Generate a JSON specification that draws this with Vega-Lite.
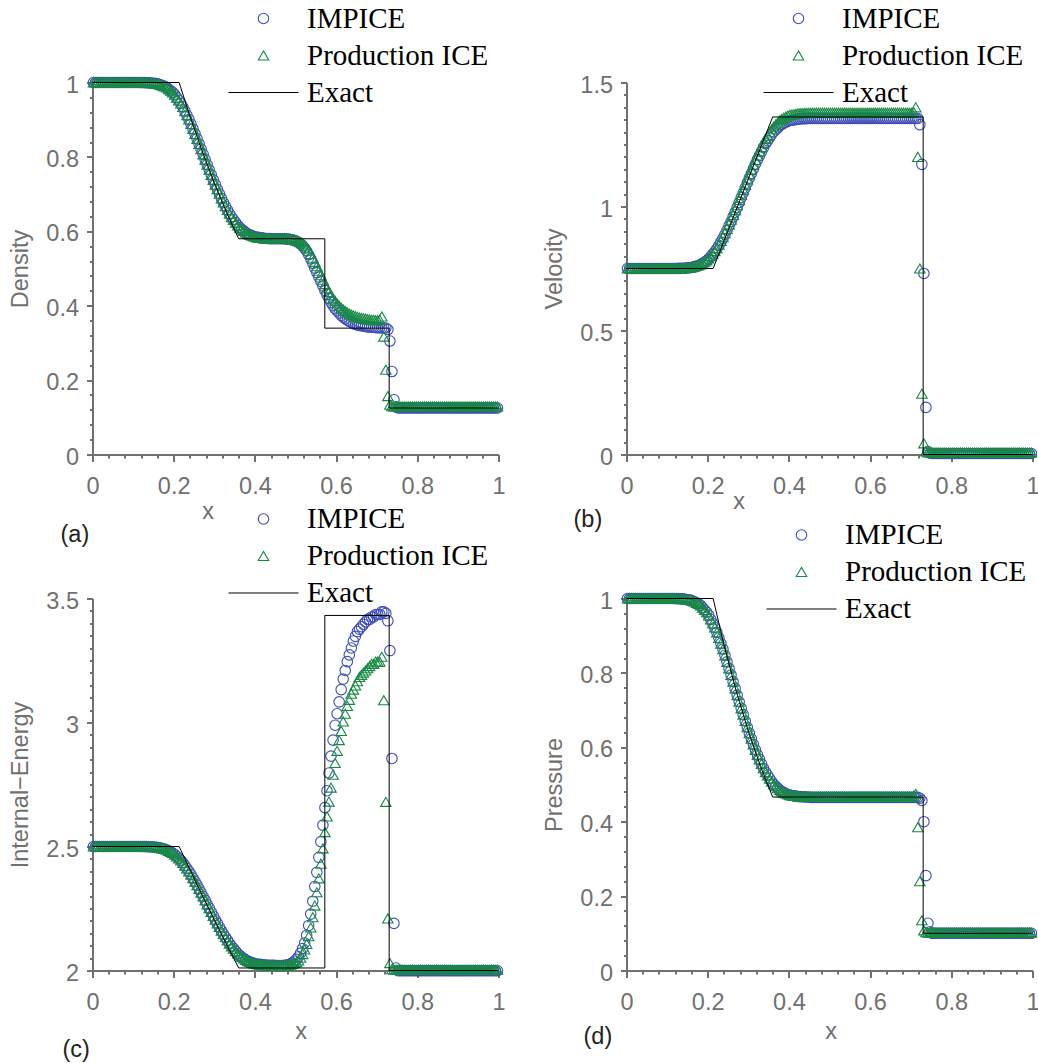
{
"$schema": "https://vega.github.io/schema/vega-lite/v6.json",
"background": "white",
"padding": {"left": 8.5, "top": 3.5, "right": 0, "bottom": 0},
"config": {
  "view": {"stroke": null},
  "axis": {"labelFont": "Liberation Sans", "labelFontSize": 23.5, "labelColor": "#707070", "titleFont": "Liberation Sans", "titleFontSize": 23.5, "titleFontWeight": "normal", "titleColor": "#707070", "domainColor": "#707070", "tickColor": "#707070", "domainWidth": 2, "tickWidth": 2, "grid": false, "labelFlush": false, "labelOverlap": false, "format": "~g"},
  "legend": {"title": null, "orient": "none", "padding": 0, "rowPadding": 7, "symbolOffset": 20.5, "labelOffset": 29, "labelFont": "Liberation Serif", "labelFontSize": 29, "labelColor": "#000000", "labelLimit": 0, "symbolSize": 110, "symbolStrokeWidth": 1.1},
  "title": {"font": "Liberation Sans", "fontSize": 23.5, "fontWeight": "normal", "color": "#222222"}
},
"datasets": {
"ex": [
{"p":"a","i":0,"x":0,"y":1},{"p":"a","i":1,"x":0.2134,"y":1},{"p":"a","i":2,"x":0.24,"y":0.9096},{"p":"a","i":3,"x":0.27,"y":0.8158},{"p":"a","i":4,"x":0.3,"y":0.7299},{"p":"a","i":5,"x":0.33,"y":0.6513},{"p":"a","i":6,"x":0.36,"y":0.5799},{"p":"a","i":7,"x":0.5722,"y":0.5799},{"p":"a","i":8,"x":0.5722,"y":0.3397},{"p":"a","i":9,"x":0.7307,"y":0.3397},{"p":"a","i":10,"x":0.7307,"y":0.125},{"p":"a","i":11,"x":1,"y":0.125},
{"p":"b","i":0,"x":0,"y":0.75},{"p":"b","i":1,"x":0.2134,"y":0.75},{"p":"b","i":2,"x":0.36,"y":1.361},{"p":"b","i":3,"x":0.7307,"y":1.361},{"p":"b","i":4,"x":0.7307,"y":0},{"p":"b","i":5,"x":1,"y":0},
{"p":"c","i":0,"x":0,"y":2.5},{"p":"c","i":1,"x":0.2134,"y":2.5},{"p":"c","i":2,"x":0.24,"y":2.407},{"p":"c","i":3,"x":0.27,"y":2.3045},{"p":"c","i":4,"x":0.3,"y":2.2042},{"p":"c","i":5,"x":0.33,"y":2.1061},{"p":"c","i":6,"x":0.36,"y":2.0102},{"p":"c","i":7,"x":0.5722,"y":2.0102},{"p":"c","i":8,"x":0.5722,"y":3.4317},{"p":"c","i":9,"x":0.7307,"y":3.4317},{"p":"c","i":10,"x":0.7307,"y":2},{"p":"c","i":11,"x":1,"y":2},
{"p":"d","i":0,"x":0,"y":1},{"p":"d","i":1,"x":0.2134,"y":1},{"p":"d","i":2,"x":0.24,"y":0.8758},{"p":"d","i":3,"x":0.27,"y":0.752},{"p":"d","i":4,"x":0.3,"y":0.6435},{"p":"d","i":5,"x":0.33,"y":0.5488},{"p":"d","i":6,"x":0.36,"y":0.4663},{"p":"d","i":7,"x":0.7307,"y":0.4663},{"p":"d","i":8,"x":0.7307,"y":0.1},{"p":"d","i":9,"x":1,"y":0.1}
],
"num": [
{"x":0.0025,"a":1,"A":1,"b":0.75,"B":0.75,"c":2.5,"C":2.5,"d":1,"D":1},
{"x":0.0075,"a":1,"A":1,"b":0.75,"B":0.75,"c":2.5,"C":2.5,"d":1,"D":1},
{"x":0.0125,"a":1,"A":1,"b":0.75,"B":0.75,"c":2.5,"C":2.5,"d":1,"D":1},
{"x":0.0175,"a":1,"A":1,"b":0.75,"B":0.75,"c":2.5,"C":2.5,"d":1,"D":1},
{"x":0.0225,"a":1,"A":1,"b":0.75,"B":0.75,"c":2.5,"C":2.5,"d":1,"D":1},
{"x":0.0275,"a":1,"A":1,"b":0.75,"B":0.75,"c":2.5,"C":2.5,"d":1,"D":1},
{"x":0.0325,"a":1,"A":1,"b":0.75,"B":0.75,"c":2.5,"C":2.5,"d":1,"D":1},
{"x":0.0375,"a":1,"A":1,"b":0.75,"B":0.75,"c":2.5,"C":2.5,"d":1,"D":1},
{"x":0.0425,"a":1,"A":1,"b":0.75,"B":0.75,"c":2.5,"C":2.5,"d":1,"D":1},
{"x":0.0475,"a":1,"A":1,"b":0.75,"B":0.75,"c":2.5,"C":2.5,"d":1,"D":1},
{"x":0.0525,"a":1,"A":1,"b":0.75,"B":0.75,"c":2.5,"C":2.5,"d":1,"D":1},
{"x":0.0575,"a":1,"A":1,"b":0.75,"B":0.75,"c":2.5,"C":2.5,"d":1,"D":1},
{"x":0.0625,"a":1,"A":1,"b":0.75,"B":0.75,"c":2.5,"C":2.5,"d":1,"D":1},
{"x":0.0675,"a":1,"A":1,"b":0.75,"B":0.75,"c":2.5,"C":2.5,"d":1,"D":1},
{"x":0.0725,"a":1,"A":1,"b":0.75,"B":0.75,"c":2.5,"C":2.5,"d":1,"D":1},
{"x":0.0775,"a":1,"A":1,"b":0.75,"B":0.75,"c":2.5,"C":2.5,"d":1,"D":1},
{"x":0.0825,"a":1,"A":1,"b":0.75,"B":0.75,"c":2.5,"C":2.5,"d":1,"D":1},
{"x":0.0875,"a":1,"A":1,"b":0.75,"B":0.75,"c":2.5,"C":2.5,"d":1,"D":1},
{"x":0.0925,"a":1,"A":1,"b":0.75,"B":0.75,"c":2.5,"C":2.5,"d":1,"D":1},
{"x":0.0975,"a":1,"A":1,"b":0.75,"B":0.75,"c":2.5,"C":2.5,"d":1,"D":1},
{"x":0.1025,"a":1,"A":1,"b":0.75,"B":0.75,"c":2.5,"C":2.5,"d":1,"D":1},
{"x":0.1075,"a":1,"A":1,"b":0.75,"B":0.75,"c":2.5,"C":2.5,"d":1,"D":1},
{"x":0.1125,"a":1,"A":1,"b":0.75,"B":0.75,"c":2.5,"C":2.5,"d":1,"D":1},
{"x":0.1175,"a":0.9999,"A":0.9999,"b":0.7501,"B":0.7501,"c":2.4999,"C":2.4999,"d":0.9999,"D":0.9999},
{"x":0.1225,"a":0.9998,"A":0.9998,"b":0.7502,"B":0.7502,"c":2.4998,"C":2.4998,"d":0.9997,"D":0.9997},
{"x":0.1275,"a":0.9997,"A":0.9997,"b":0.7504,"B":0.7504,"c":2.4997,"C":2.4997,"d":0.9996,"D":0.9996},
{"x":0.1325,"a":0.9995,"A":0.9995,"b":0.7506,"B":0.7506,"c":2.4995,"C":2.4995,"d":0.9993,"D":0.9993},
{"x":0.1375,"a":0.9993,"A":0.9993,"b":0.7508,"B":0.7509,"c":2.4993,"C":2.4993,"d":0.999,"D":0.999},
{"x":0.1425,"a":0.9989,"A":0.9989,"b":0.7513,"B":0.7513,"c":2.4989,"C":2.4989,"d":0.9985,"D":0.9985},
{"x":0.1475,"a":0.9982,"A":0.9982,"b":0.7521,"B":0.7522,"c":2.4982,"C":2.4982,"d":0.9975,"D":0.9975},
{"x":0.1525,"a":0.9976,"A":0.9976,"b":0.7528,"B":0.7529,"c":2.4976,"C":2.4976,"d":0.9966,"D":0.9966},
{"x":0.1575,"a":0.9969,"A":0.9969,"b":0.7536,"B":0.7538,"c":2.497,"C":2.497,"d":0.9957,"D":0.9957},
{"x":0.1625,"a":0.9956,"A":0.9956,"b":0.7551,"B":0.7553,"c":2.4957,"C":2.4957,"d":0.9938,"D":0.9938},
{"x":0.1675,"a":0.9937,"A":0.9937,"b":0.7574,"B":0.7577,"c":2.4938,"C":2.4938,"d":0.9912,"D":0.9912},
{"x":0.1725,"a":0.9917,"A":0.9917,"b":0.7597,"B":0.7601,"c":2.4919,"C":2.4919,"d":0.9884,"D":0.9884},
{"x":0.1775,"a":0.9898,"A":0.9898,"b":0.762,"B":0.7624,"c":2.49,"C":2.49,"d":0.9857,"D":0.9857},
{"x":0.1825,"a":0.9866,"A":0.9866,"b":0.7658,"B":0.7664,"c":2.4868,"C":2.4868,"d":0.9813,"D":0.9813},
{"x":0.1875,"a":0.9822,"A":0.9822,"b":0.771,"B":0.7718,"c":2.4824,"C":2.4824,"d":0.9752,"D":0.9752},
{"x":0.1925,"a":0.9778,"A":0.9778,"b":0.7763,"B":0.7773,"c":2.4781,"C":2.4781,"d":0.9691,"D":0.9691},
{"x":0.1975,"a":0.9734,"A":0.9734,"b":0.7815,"B":0.7827,"c":2.4737,"C":2.4737,"d":0.963,"D":0.963},
{"x":0.2025,"a":0.9673,"A":0.9673,"b":0.7888,"B":0.7903,"c":2.4676,"C":2.4676,"d":0.9545,"D":0.9545},
{"x":0.2075,"a":0.9594,"A":0.9594,"b":0.7983,"B":0.8002,"c":2.4597,"C":2.4597,"d":0.9436,"D":0.9436},
{"x":0.2125,"a":0.9516,"A":0.9516,"b":0.8078,"B":0.81,"c":2.4519,"C":2.4519,"d":0.9329,"D":0.9329},
{"x":0.2175,"a":0.9437,"A":0.9437,"b":0.8175,"B":0.8201,"c":2.4438,"C":2.4438,"d":0.9221,"D":0.9221},
{"x":0.2225,"a":0.9342,"A":0.9342,"b":0.8292,"B":0.8322,"c":2.4342,"C":2.4342,"d":0.9091,"D":0.9091},
{"x":0.2275,"a":0.923,"A":0.923,"b":0.8431,"B":0.8466,"c":2.4227,"C":2.4227,"d":0.8939,"D":0.8939},
{"x":0.2325,"a":0.9119,"A":0.9119,"b":0.8571,"B":0.8612,"c":2.4113,"C":2.4113,"d":0.8789,"D":0.8789},
{"x":0.2375,"a":0.9007,"A":0.9007,"b":0.8712,"B":0.8759,"c":2.3996,"C":2.3996,"d":0.8638,"D":0.8638},
{"x":0.2425,"a":0.8884,"A":0.8884,"b":0.887,"B":0.8922,"c":2.3867,"C":2.3867,"d":0.8473,"D":0.8473},
{"x":0.2475,"a":0.8751,"A":0.8751,"b":0.9042,"B":0.9101,"c":2.3726,"C":2.3726,"d":0.8296,"D":0.8296},
{"x":0.2525,"a":0.8618,"A":0.8618,"b":0.9217,"B":0.9282,"c":2.3584,"C":2.3584,"d":0.812,"D":0.812},
{"x":0.2575,"a":0.8485,"A":0.8485,"b":0.9394,"B":0.9466,"c":2.3441,"C":2.3441,"d":0.7945,"D":0.7945},
{"x":0.2625,"a":0.8348,"A":0.8348,"b":0.9578,"B":0.9657,"c":2.3292,"C":2.3292,"d":0.7766,"D":0.7766},
{"x":0.2675,"a":0.8208,"A":0.8208,"b":0.9769,"B":0.9855,"c":2.3139,"C":2.3139,"d":0.7584,"D":0.7584},
{"x":0.2725,"a":0.8068,"A":0.8068,"b":0.9962,"B":1.0055,"c":2.2984,"C":2.2984,"d":0.7404,"D":0.7404},
{"x":0.2775,"a":0.7927,"A":0.7927,"b":1.016,"B":1.0261,"c":2.2826,"C":2.2826,"d":0.7224,"D":0.7224},
{"x":0.2825,"a":0.7789,"A":0.7789,"b":1.0356,"B":1.0464,"c":2.2669,"C":2.2669,"d":0.7048,"D":0.7048},
{"x":0.2875,"a":0.7654,"A":0.7654,"b":1.055,"B":1.0666,"c":2.2515,"C":2.2515,"d":0.6878,"D":0.6878},
{"x":0.2925,"a":0.7518,"A":0.7518,"b":1.0749,"B":1.0872,"c":2.2358,"C":2.2358,"d":0.6707,"D":0.6707},
{"x":0.2975,"a":0.7383,"A":0.7383,"b":1.0949,"B":1.108,"c":2.22,"C":2.22,"d":0.6539,"D":0.6539},
{"x":0.3025,"a":0.7254,"A":0.7254,"b":1.1143,"B":1.1281,"c":2.2047,"C":2.2047,"d":0.638,"D":0.638},
{"x":0.3075,"a":0.7131,"A":0.7131,"b":1.133,"B":1.1476,"c":2.19,"C":2.19,"d":0.6229,"D":0.6229},
{"x":0.3125,"a":0.7009,"A":0.7009,"b":1.1519,"B":1.1672,"c":2.1753,"C":2.1753,"d":0.608,"D":0.608},
{"x":0.3175,"a":0.6886,"A":0.6886,"b":1.1712,"B":1.1872,"c":2.1604,"C":2.1604,"d":0.5932,"D":0.5932},
{"x":0.3225,"a":0.6774,"A":0.6774,"b":1.189,"B":1.2057,"c":2.1466,"C":2.1466,"d":0.5797,"D":0.5797},
{"x":0.3275,"a":0.6673,"A":0.6673,"b":1.2053,"B":1.2226,"c":2.134,"C":2.134,"d":0.5676,"D":0.5676},
{"x":0.3325,"a":0.6572,"A":0.6572,"b":1.2217,"B":1.2397,"c":2.1214,"C":2.1214,"d":0.5556,"D":0.5556},
{"x":0.3375,"a":0.6471,"A":0.6471,"b":1.2384,"B":1.2569,"c":2.1086,"C":2.1086,"d":0.5437,"D":0.5437},
{"x":0.3425,"a":0.6383,"A":0.6383,"b":1.2531,"B":1.2722,"c":2.0974,"C":2.0974,"d":0.5334,"D":0.5334},
{"x":0.3475,"a":0.6309,"A":0.6309,"b":1.2655,"B":1.2851,"c":2.0879,"C":2.0879,"d":0.5247,"D":0.5247},
{"x":0.3525,"a":0.6234,"A":0.6234,"b":1.2783,"B":1.2984,"c":2.0781,"C":2.0781,"d":0.516,"D":0.516},
{"x":0.3575,"a":0.616,"A":0.616,"b":1.291,"B":1.3116,"c":2.0685,"C":2.0685,"d":0.5075,"D":0.5075},
{"x":0.3625,"a":0.61,"A":0.61,"b":1.3014,"B":1.3224,"c":2.0606,"C":2.0606,"d":0.5006,"D":0.5006},
{"x":0.3675,"a":0.6054,"A":0.6054,"b":1.3094,"B":1.3307,"c":2.0545,"C":2.0545,"d":0.4953,"D":0.4953},
{"x":0.3725,"a":0.6009,"A":0.6009,"b":1.3173,"B":1.3389,"c":2.0486,"C":2.0486,"d":0.4902,"D":0.4902},
{"x":0.3775,"a":0.5963,"A":0.5963,"b":1.3255,"B":1.3474,"c":2.0425,"C":2.0425,"d":0.4849,"D":0.4849},
{"x":0.3825,"a":0.5929,"A":0.5929,"b":1.3315,"B":1.3536,"c":2.0379,"C":2.0379,"d":0.4811,"D":0.4811},
{"x":0.3875,"a":0.5906,"A":0.5906,"b":1.3356,"B":1.3578,"c":2.0349,"C":2.0349,"d":0.4784,"D":0.4784},
{"x":0.3925,"a":0.5883,"A":0.5883,"b":1.3397,"B":1.3621,"c":2.0317,"C":2.0317,"d":0.4758,"D":0.4758},
{"x":0.3975,"a":0.586,"A":0.586,"b":1.3438,"B":1.3664,"c":2.0287,"C":2.0287,"d":0.4732,"D":0.4732},
{"x":0.4025,"a":0.5844,"A":0.5844,"b":1.3467,"B":1.3694,"c":2.0265,"C":2.0265,"d":0.4714,"D":0.4714},
{"x":0.4075,"a":0.5837,"A":0.5837,"b":1.348,"B":1.3707,"c":2.0255,"C":2.0255,"d":0.4706,"D":0.4706},
{"x":0.4125,"a":0.583,"A":0.583,"b":1.3493,"B":1.372,"c":2.0246,"C":2.0246,"d":0.4698,"D":0.4698},
{"x":0.4175,"a":0.5823,"A":0.5823,"b":1.3505,"B":1.3733,"c":2.0236,"C":2.0236,"d":0.469,"D":0.469},
{"x":0.4225,"a":0.5811,"A":0.5811,"b":1.3527,"B":1.3756,"c":2.022,"C":2.022,"d":0.4676,"D":0.4676},
{"x":0.4275,"a":0.5808,"A":0.5808,"b":1.3532,"B":1.3762,"c":2.0216,"C":2.0216,"d":0.4673,"D":0.4673},
{"x":0.4325,"a":0.5806,"A":0.5806,"b":1.3536,"B":1.3765,"c":2.0213,"C":2.0213,"d":0.4671,"D":0.4671},
{"x":0.4375,"a":0.5803,"A":0.5803,"b":1.354,"B":1.377,"c":2.0209,"C":2.0209,"d":0.4667,"D":0.4667},
{"x":0.4425,"a":0.5801,"A":0.5801,"b":1.3545,"B":1.3775,"c":2.0207,"C":2.0207,"d":0.4665,"D":0.4665},
{"x":0.4475,"a":0.58,"A":0.58,"b":1.3548,"B":1.3778,"c":2.0205,"C":2.0205,"d":0.4664,"D":0.4664},
{"x":0.4525,"a":0.58,"A":0.58,"b":1.355,"B":1.378,"c":2.0204,"C":2.0204,"d":0.4655,"D":0.4675},
{"x":0.4575,"a":0.58,"A":0.58,"b":1.355,"B":1.378,"c":2.0204,"C":2.0204,"d":0.4655,"D":0.4675},
{"x":0.4625,"a":0.58,"A":0.58,"b":1.355,"B":1.378,"c":2.0204,"C":2.0204,"d":0.4655,"D":0.4675},
{"x":0.4675,"a":0.58,"A":0.58,"b":1.355,"B":1.378,"c":2.0204,"C":2.0204,"d":0.4655,"D":0.4675},
{"x":0.4725,"a":0.5798,"A":0.58,"b":1.355,"B":1.378,"c":2.0207,"C":2.0204,"d":0.4655,"D":0.4675},
{"x":0.4775,"a":0.5795,"A":0.58,"b":1.355,"B":1.378,"c":2.0217,"C":2.0204,"d":0.4655,"D":0.4675},
{"x":0.4825,"a":0.579,"A":0.58,"b":1.355,"B":1.378,"c":2.0235,"C":2.0204,"d":0.4655,"D":0.4675},
{"x":0.4875,"a":0.578,"A":0.579,"b":1.355,"B":1.378,"c":2.027,"C":2.0235,"d":0.4655,"D":0.4675},
{"x":0.4925,"a":0.577,"A":0.578,"b":1.355,"B":1.378,"c":2.0305,"C":2.027,"d":0.4655,"D":0.4675},
{"x":0.4975,"a":0.575,"A":0.577,"b":1.355,"B":1.378,"c":2.0376,"C":2.0305,"d":0.4655,"D":0.4675},
{"x":0.5025,"a":0.573,"A":0.576,"b":1.355,"B":1.378,"c":2.0447,"C":2.034,"d":0.4655,"D":0.4675},
{"x":0.5075,"a":0.57,"A":0.574,"b":1.355,"B":1.378,"c":2.0554,"C":2.0411,"d":0.4655,"D":0.4675},
{"x":0.5125,"a":0.566,"A":0.571,"b":1.355,"B":1.378,"c":2.07,"C":2.0518,"d":0.4655,"D":0.4675},
{"x":0.5175,"a":0.561,"A":0.567,"b":1.355,"B":1.378,"c":2.0884,"C":2.0663,"d":0.4655,"D":0.4675},
{"x":0.5225,"a":0.555,"A":0.562,"b":1.355,"B":1.378,"c":2.111,"C":2.0847,"d":0.4655,"D":0.4675},
{"x":0.5275,"a":0.547,"A":0.556,"b":1.355,"B":1.378,"c":2.1419,"C":2.1072,"d":0.4655,"D":0.4675},
{"x":0.5325,"a":0.537,"A":0.548,"b":1.355,"B":1.378,"c":2.1817,"C":2.138,"d":0.4655,"D":0.4675},
{"x":0.5375,"a":0.526,"A":0.539,"b":1.355,"B":1.378,"c":2.2274,"C":2.1736,"d":0.4655,"D":0.4675},
{"x":0.5425,"a":0.514,"A":0.529,"b":1.355,"B":1.378,"c":2.2794,"C":2.2147,"d":0.4655,"D":0.4675},
{"x":0.5475,"a":0.501,"A":0.518,"b":1.355,"B":1.378,"c":2.3385,"C":2.2618,"d":0.4655,"D":0.4675},
{"x":0.5525,"a":0.489,"A":0.506,"b":1.355,"B":1.378,"c":2.3959,"C":2.3154,"d":0.4655,"D":0.4675},
{"x":0.5575,"a":0.477,"A":0.494,"b":1.355,"B":1.378,"c":2.4562,"C":2.3717,"d":0.4655,"D":0.4675},
{"x":0.5625,"a":0.465,"A":0.482,"b":1.355,"B":1.378,"c":2.5196,"C":2.4307,"d":0.4655,"D":0.4675},
{"x":0.5675,"a":0.453,"A":0.47,"b":1.355,"B":1.378,"c":2.5863,"C":2.4928,"d":0.4655,"D":0.4675},
{"x":0.5725,"a":0.441,"A":0.458,"b":1.355,"B":1.378,"c":2.6567,"C":2.5581,"d":0.4655,"D":0.4675},
{"x":0.5775,"a":0.43,"A":0.447,"b":1.355,"B":1.378,"c":2.7247,"C":2.621,"d":0.4655,"D":0.4675},
{"x":0.5825,"a":0.419,"A":0.437,"b":1.355,"B":1.378,"c":2.7962,"C":2.681,"d":0.4655,"D":0.4675},
{"x":0.5875,"a":0.409,"A":0.428,"b":1.355,"B":1.378,"c":2.8645,"C":2.7374,"d":0.4655,"D":0.4675},
{"x":0.5925,"a":0.4,"A":0.42,"b":1.355,"B":1.378,"c":2.929,"C":2.7895,"d":0.4655,"D":0.4675},
{"x":0.5975,"a":0.392,"A":0.413,"b":1.355,"B":1.378,"c":2.9888,"C":2.8368,"d":0.4655,"D":0.4675},
{"x":0.6025,"a":0.386,"A":0.406,"b":1.355,"B":1.378,"c":3.0352,"C":2.8857,"d":0.4655,"D":0.4675},
{"x":0.6075,"a":0.38,"A":0.4,"b":1.355,"B":1.378,"c":3.0832,"C":2.929,"d":0.4655,"D":0.4675},
{"x":0.6125,"a":0.374,"A":0.395,"b":1.355,"B":1.378,"c":3.1326,"C":2.9661,"d":0.4655,"D":0.4675},
{"x":0.6175,"a":0.369,"A":0.39,"b":1.355,"B":1.378,"c":3.1751,"C":3.0041,"d":0.4655,"D":0.4675},
{"x":0.6225,"a":0.365,"A":0.386,"b":1.355,"B":1.378,"c":3.2099,"C":3.0352,"d":0.4655,"D":0.4675},
{"x":0.6275,"a":0.361,"A":0.382,"b":1.355,"B":1.378,"c":3.2454,"C":3.067,"d":0.4655,"D":0.4675},
{"x":0.6325,"a":0.358,"A":0.379,"b":1.355,"B":1.378,"c":3.2726,"C":3.0913,"d":0.4655,"D":0.4675},
{"x":0.6375,"a":0.355,"A":0.376,"b":1.355,"B":1.378,"c":3.3003,"C":3.116,"d":0.4655,"D":0.4675},
{"x":0.6425,"a":0.352,"A":0.374,"b":1.355,"B":1.378,"c":3.3284,"C":3.1326,"d":0.4655,"D":0.4675},
{"x":0.6475,"a":0.35,"A":0.372,"b":1.355,"B":1.378,"c":3.3474,"C":3.1495,"d":0.4655,"D":0.4675},
{"x":0.6525,"a":0.348,"A":0.37,"b":1.355,"B":1.378,"c":3.3667,"C":3.1665,"d":0.4655,"D":0.4675},
{"x":0.6575,"a":0.347,"A":0.368,"b":1.355,"B":1.378,"c":3.3764,"C":3.1837,"d":0.4655,"D":0.4675},
{"x":0.6625,"a":0.346,"A":0.367,"b":1.355,"B":1.378,"c":3.3861,"C":3.1924,"d":0.4655,"D":0.4675},
{"x":0.6675,"a":0.345,"A":0.366,"b":1.355,"B":1.378,"c":3.3959,"C":3.2011,"d":0.4655,"D":0.4675},
{"x":0.6725,"a":0.344,"A":0.365,"b":1.355,"B":1.378,"c":3.4058,"C":3.2099,"d":0.4655,"D":0.4675},
{"x":0.6775,"a":0.343,"A":0.364,"b":1.355,"B":1.378,"c":3.4157,"C":3.2187,"d":0.4655,"D":0.4675},
{"x":0.6825,"a":0.343,"A":0.363,"b":1.355,"B":1.378,"c":3.4157,"C":3.2275,"d":0.4655,"D":0.4675},
{"x":0.6875,"a":0.342,"A":0.362,"b":1.355,"B":1.378,"c":3.4257,"C":3.2365,"d":0.4655,"D":0.4675},
{"x":0.6925,"a":0.342,"A":0.362,"b":1.355,"B":1.378,"c":3.4257,"C":3.2365,"d":0.4655,"D":0.4675},
{"x":0.6975,"a":0.341,"A":0.361,"b":1.355,"B":1.378,"c":3.4358,"C":3.2454,"d":0.4655,"D":0.4675},
{"x":0.7025,"a":0.341,"A":0.361,"b":1.355,"B":1.378,"c":3.4358,"C":3.2454,"d":0.4655,"D":0.4675},
{"x":0.7075,"a":0.341,"A":0.362,"b":1.355,"B":1.38,"c":3.4358,"C":3.245,"d":0.4655,"D":0.47},
{"x":0.7125,"a":0.34,"A":0.371,"b":1.355,"B":1.4,"c":3.446,"C":3.265,"d":0.4655,"D":0.475},
{"x":0.7175,"a":0.34,"A":0.317,"b":1.355,"B":1.2,"c":3.446,"C":3.09,"d":0.4655,"D":0.385},
{"x":0.7225,"a":0.34,"A":0.228,"b":1.33,"B":0.75,"c":3.44,"C":2.68,"d":0.463,"D":0.24},
{"x":0.7275,"a":0.336,"A":0.157,"b":1.17,"B":0.245,"c":3.41,"C":2.21,"d":0.457,"D":0.135},
{"x":0.7325,"a":0.305,"A":0.134,"b":0.73,"B":0.045,"c":3.29,"C":2.03,"d":0.4,"D":0.108},
{"x":0.7375,"a":0.223,"A":0.13,"b":0.19,"B":0.012,"c":2.855,"C":2.005,"d":0.255,"D":0.103},
{"x":0.7425,"a":0.147,"A":0.129,"b":0.012,"B":0.008,"c":2.19,"C":2.003,"d":0.127,"D":0.102},
{"x":0.7475,"a":0.128,"A":0.129,"b":0.005,"B":0.008,"c":2.01,"C":2.003,"d":0.104,"D":0.102},
{"x":0.7525,"a":0.125,"A":0.129,"b":0.004,"B":0.008,"c":1.999,"C":2.003,"d":0.1,"D":0.102},
{"x":0.7575,"a":0.125,"A":0.129,"b":0.004,"B":0.008,"c":1.999,"C":2.003,"d":0.1,"D":0.102},
{"x":0.7625,"a":0.125,"A":0.129,"b":0.004,"B":0.008,"c":1.999,"C":2.003,"d":0.1,"D":0.102},
{"x":0.7675,"a":0.125,"A":0.129,"b":0.004,"B":0.008,"c":1.999,"C":2.003,"d":0.1,"D":0.102},
{"x":0.7725,"a":0.125,"A":0.129,"b":0.004,"B":0.008,"c":1.999,"C":2.003,"d":0.1,"D":0.102},
{"x":0.7775,"a":0.125,"A":0.129,"b":0.004,"B":0.008,"c":1.999,"C":2.003,"d":0.1,"D":0.102},
{"x":0.7825,"a":0.125,"A":0.129,"b":0.004,"B":0.008,"c":1.999,"C":2.003,"d":0.1,"D":0.102},
{"x":0.7875,"a":0.125,"A":0.129,"b":0.004,"B":0.008,"c":1.999,"C":2.003,"d":0.1,"D":0.102},
{"x":0.7925,"a":0.125,"A":0.129,"b":0.004,"B":0.008,"c":1.999,"C":2.003,"d":0.1,"D":0.102},
{"x":0.7975,"a":0.125,"A":0.129,"b":0.004,"B":0.008,"c":1.999,"C":2.003,"d":0.1,"D":0.102},
{"x":0.8025,"a":0.125,"A":0.129,"b":0.004,"B":0.008,"c":1.999,"C":2.003,"d":0.1,"D":0.102},
{"x":0.8075,"a":0.125,"A":0.129,"b":0.004,"B":0.008,"c":1.999,"C":2.003,"d":0.1,"D":0.102},
{"x":0.8125,"a":0.125,"A":0.129,"b":0.004,"B":0.008,"c":1.999,"C":2.003,"d":0.1,"D":0.102},
{"x":0.8175,"a":0.125,"A":0.129,"b":0.004,"B":0.008,"c":1.999,"C":2.003,"d":0.1,"D":0.102},
{"x":0.8225,"a":0.125,"A":0.129,"b":0.004,"B":0.008,"c":1.999,"C":2.003,"d":0.1,"D":0.102},
{"x":0.8275,"a":0.125,"A":0.129,"b":0.004,"B":0.008,"c":1.999,"C":2.003,"d":0.1,"D":0.102},
{"x":0.8325,"a":0.125,"A":0.129,"b":0.004,"B":0.008,"c":1.999,"C":2.003,"d":0.1,"D":0.102},
{"x":0.8375,"a":0.125,"A":0.129,"b":0.004,"B":0.008,"c":1.999,"C":2.003,"d":0.1,"D":0.102},
{"x":0.8425,"a":0.125,"A":0.129,"b":0.004,"B":0.008,"c":1.999,"C":2.003,"d":0.1,"D":0.102},
{"x":0.8475,"a":0.125,"A":0.129,"b":0.004,"B":0.008,"c":1.999,"C":2.003,"d":0.1,"D":0.102},
{"x":0.8525,"a":0.125,"A":0.129,"b":0.004,"B":0.008,"c":1.999,"C":2.003,"d":0.1,"D":0.102},
{"x":0.8575,"a":0.125,"A":0.129,"b":0.004,"B":0.008,"c":1.999,"C":2.003,"d":0.1,"D":0.102},
{"x":0.8625,"a":0.125,"A":0.129,"b":0.004,"B":0.008,"c":1.999,"C":2.003,"d":0.1,"D":0.102},
{"x":0.8675,"a":0.125,"A":0.129,"b":0.004,"B":0.008,"c":1.999,"C":2.003,"d":0.1,"D":0.102},
{"x":0.8725,"a":0.125,"A":0.129,"b":0.004,"B":0.008,"c":1.999,"C":2.003,"d":0.1,"D":0.102},
{"x":0.8775,"a":0.125,"A":0.129,"b":0.004,"B":0.008,"c":1.999,"C":2.003,"d":0.1,"D":0.102},
{"x":0.8825,"a":0.125,"A":0.129,"b":0.004,"B":0.008,"c":1.999,"C":2.003,"d":0.1,"D":0.102},
{"x":0.8875,"a":0.125,"A":0.129,"b":0.004,"B":0.008,"c":1.999,"C":2.003,"d":0.1,"D":0.102},
{"x":0.8925,"a":0.125,"A":0.129,"b":0.004,"B":0.008,"c":1.999,"C":2.003,"d":0.1,"D":0.102},
{"x":0.8975,"a":0.125,"A":0.129,"b":0.004,"B":0.008,"c":1.999,"C":2.003,"d":0.1,"D":0.102},
{"x":0.9025,"a":0.125,"A":0.129,"b":0.004,"B":0.008,"c":1.999,"C":2.003,"d":0.1,"D":0.102},
{"x":0.9075,"a":0.125,"A":0.129,"b":0.004,"B":0.008,"c":1.999,"C":2.003,"d":0.1,"D":0.102},
{"x":0.9125,"a":0.125,"A":0.129,"b":0.004,"B":0.008,"c":1.999,"C":2.003,"d":0.1,"D":0.102},
{"x":0.9175,"a":0.125,"A":0.129,"b":0.004,"B":0.008,"c":1.999,"C":2.003,"d":0.1,"D":0.102},
{"x":0.9225,"a":0.125,"A":0.129,"b":0.004,"B":0.008,"c":1.999,"C":2.003,"d":0.1,"D":0.102},
{"x":0.9275,"a":0.125,"A":0.129,"b":0.004,"B":0.008,"c":1.999,"C":2.003,"d":0.1,"D":0.102},
{"x":0.9325,"a":0.125,"A":0.129,"b":0.004,"B":0.008,"c":1.999,"C":2.003,"d":0.1,"D":0.102},
{"x":0.9375,"a":0.125,"A":0.129,"b":0.004,"B":0.008,"c":1.999,"C":2.003,"d":0.1,"D":0.102},
{"x":0.9425,"a":0.125,"A":0.129,"b":0.004,"B":0.008,"c":1.999,"C":2.003,"d":0.1,"D":0.102},
{"x":0.9475,"a":0.125,"A":0.129,"b":0.004,"B":0.008,"c":1.999,"C":2.003,"d":0.1,"D":0.102},
{"x":0.9525,"a":0.125,"A":0.129,"b":0.004,"B":0.008,"c":1.999,"C":2.003,"d":0.1,"D":0.102},
{"x":0.9575,"a":0.125,"A":0.129,"b":0.004,"B":0.008,"c":1.999,"C":2.003,"d":0.1,"D":0.102},
{"x":0.9625,"a":0.125,"A":0.129,"b":0.004,"B":0.008,"c":1.999,"C":2.003,"d":0.1,"D":0.102},
{"x":0.9675,"a":0.125,"A":0.129,"b":0.004,"B":0.008,"c":1.999,"C":2.003,"d":0.1,"D":0.102},
{"x":0.9725,"a":0.125,"A":0.129,"b":0.004,"B":0.008,"c":1.999,"C":2.003,"d":0.1,"D":0.102},
{"x":0.9775,"a":0.125,"A":0.129,"b":0.004,"B":0.008,"c":1.999,"C":2.003,"d":0.1,"D":0.102},
{"x":0.9825,"a":0.125,"A":0.129,"b":0.004,"B":0.008,"c":1.999,"C":2.003,"d":0.1,"D":0.102},
{"x":0.9875,"a":0.125,"A":0.129,"b":0.004,"B":0.008,"c":1.999,"C":2.003,"d":0.1,"D":0.102},
{"x":0.9925,"a":0.125,"A":0.129,"b":0.004,"B":0.008,"c":1.999,"C":2.003,"d":0.1,"D":0.102},
{"x":0.9975,"a":0.125,"A":0.129,"b":0.004,"B":0.008,"c":1.999,"C":2.003,"d":0.1,"D":0.102}
]
},
"columns": 2,
"bounds": "flush",
"spacing": {"row": 144, "column": 128},
"resolve": {"scale": {"color": "independent", "shape": "independent"}, "legend": {"color": "independent", "shape": "independent"}},
"concat": [
{
 "width": 406, "height": 372,
 "title": {"text": "(a)", "orient": "bottom", "anchor": "start", "frame": "group", "dx": -32, "offset": 0},
 "resolve": {"axis": {"x": "independent", "y": "independent"}},
 "layer": [
  {"data": {"name": "num"}, "transform": [{"fold": ["a", "A"], "as": ["s", "v"]}],
   "mark": {"type": "point", "filled": false, "size": 110, "strokeWidth": 1.1, "opacity": 1},
   "encoding": {
    "x": {"field": "x", "type": "quantitative", "scale": {"domain": [0, 1], "nice": false, "zero": false}, "axis": {"orient": "bottom", "values": [0, 0.2, 0.4, 0.6, 0.8, 1], "tickSize": 7, "labelPadding": 12.5, "title": "x", "titleX": 115, "titleY": 64, "titleBaseline": "alphabetic", "titleAlign": "center"}},
    "y": {"field": "v", "type": "quantitative", "scale": {"domain": [0, 1], "nice": false, "zero": false}, "axis": {"orient": "left", "values": [0, 0.2, 0.4, 0.6, 0.8, 1], "tickSize": 6, "labelPadding": 8, "labelOffset": 2.5, "title": "Density", "titleX": -60}},
    "color": {"field": "s", "type": "nominal", "scale": {"domain": ["a", "A", "Exact"], "range": ["#3F4FB8", "#178A42", "#000000"]}, "legend": {"legendX": 136, "legendY": -78.5, "labelExpr": "datum.label == 'Exact' ? 'Exact' : (datum.label == upper(datum.label) ? 'Production ICE' : 'IMPICE')"}},
    "shape": {"field": "s", "type": "nominal", "scale": {"domain": ["a", "A", "Exact"], "range": ["circle", "triangle-up", "M-6.67,0H6.67"]}, "legend": {"legendX": 136, "legendY": -78.5, "labelExpr": "datum.label == 'Exact' ? 'Exact' : (datum.label == upper(datum.label) ? 'Production ICE' : 'IMPICE')"}},
    "order": {"field": "s", "type": "ordinal", "sort": "descending"}
   }},
  {"data": {"name": "ex"}, "transform": [{"filter": "datum.p == 'a'"}],
   "mark": {"type": "line", "color": "#000000", "strokeWidth": 1},
   "encoding": {
    "x": {"field": "x", "type": "quantitative", "axis": {"orient": "bottom", "values": [0.04,0.08,0.12,0.16,0.24,0.28,0.32,0.36,0.44,0.48,0.52,0.56,0.64,0.68,0.72,0.76,0.84,0.88,0.92,0.96], "tickSize": 3.5, "labels": false, "domain": false, "title": null}},
    "y": {"field": "y", "type": "quantitative", "axis": {"orient": "left", "values": [0.04,0.08,0.12,0.16,0.24,0.28,0.32,0.36,0.44,0.48,0.52,0.56,0.64,0.68,0.72,0.76,0.84,0.88,0.92,0.96], "tickSize": 3, "labels": false, "domain": false, "title": null}},
    "order": {"field": "i", "type": "quantitative"}
   }}
 ]
},
{
 "width": 406, "height": 372,
 "title": {"text": "(b)", "orient": "bottom", "anchor": "start", "frame": "group", "dx": -53, "offset": 0, "dy": -5},
 "resolve": {"axis": {"x": "independent", "y": "independent"}},
 "layer": [
  {"data": {"name": "num"}, "transform": [{"fold": ["b", "B"], "as": ["s", "v"]}],
   "mark": {"type": "point", "filled": false, "size": 110, "strokeWidth": 1.1, "opacity": 1},
   "encoding": {
    "x": {"field": "x", "type": "quantitative", "scale": {"domain": [0, 1], "nice": false, "zero": false}, "axis": {"orient": "bottom", "values": [0, 0.2, 0.4, 0.6, 0.8, 1], "tickSize": 7, "labelPadding": 12.5, "title": "x", "titleX": 112, "titleY": 54, "titleBaseline": "alphabetic", "titleAlign": "center"}},
    "y": {"field": "v", "type": "quantitative", "scale": {"domain": [0, 1.5], "nice": false, "zero": false}, "axis": {"orient": "left", "values": [0, 0.5, 1, 1.5], "tickSize": 6, "labelPadding": 8, "labelOffset": 2.5, "title": "Velocity", "titleX": -60}},
    "color": {"field": "s", "type": "nominal", "scale": {"domain": ["b", "B", "Exact"], "range": ["#3F4FB8", "#178A42", "#000000"]}, "legend": {"legendX": 137, "legendY": -78.5, "labelExpr": "datum.label == 'Exact' ? 'Exact' : (datum.label == upper(datum.label) ? 'Production ICE' : 'IMPICE')"}},
    "shape": {"field": "s", "type": "nominal", "scale": {"domain": ["b", "B", "Exact"], "range": ["circle", "triangle-up", "M-6.67,0H6.67"]}, "legend": {"legendX": 137, "legendY": -78.5, "labelExpr": "datum.label == 'Exact' ? 'Exact' : (datum.label == upper(datum.label) ? 'Production ICE' : 'IMPICE')"}},
    "order": {"field": "s", "type": "ordinal", "sort": "descending"}
   }},
  {"data": {"name": "ex"}, "transform": [{"filter": "datum.p == 'b'"}],
   "mark": {"type": "line", "color": "#000000", "strokeWidth": 1},
   "encoding": {
    "x": {"field": "x", "type": "quantitative", "axis": {"orient": "bottom", "values": [0.04,0.08,0.12,0.16,0.24,0.28,0.32,0.36,0.44,0.48,0.52,0.56,0.64,0.68,0.72,0.76,0.84,0.88,0.92,0.96], "tickSize": 3.5, "labels": false, "domain": false, "title": null}},
    "y": {"field": "y", "type": "quantitative", "axis": {"orient": "left", "values": [0.05,0.1,0.15,0.2,0.25,0.3,0.35,0.4,0.45,0.55,0.6,0.65,0.7,0.75,0.8,0.85,0.9,0.95,1.05,1.1,1.15,1.2,1.25,1.3,1.35,1.4,1.45], "tickSize": 3, "labels": false, "domain": false, "title": null}},
    "order": {"field": "i", "type": "quantitative"}
   }}
 ]
},
{
 "width": 406, "height": 372,
 "title": {"text": "(c)", "orient": "bottom", "anchor": "start", "frame": "group", "dx": -30, "offset": 0, "dy": -5},
 "resolve": {"axis": {"x": "independent", "y": "independent"}},
 "layer": [
  {"data": {"name": "num"}, "transform": [{"fold": ["c", "C"], "as": ["s", "v"]}],
   "mark": {"type": "point", "filled": false, "size": 110, "strokeWidth": 1.1, "opacity": 1},
   "encoding": {
    "x": {"field": "x", "type": "quantitative", "scale": {"domain": [0, 1], "nice": false, "zero": false}, "axis": {"orient": "bottom", "values": [0, 0.2, 0.4, 0.6, 0.8, 1], "tickSize": 7, "labelPadding": 12.5, "title": "x", "titleX": 208, "titleY": 68, "titleBaseline": "alphabetic", "titleAlign": "center"}},
    "y": {"field": "v", "type": "quantitative", "scale": {"domain": [2, 3.5], "nice": false, "zero": false}, "axis": {"orient": "left", "values": [2, 2.5, 3, 3.5], "tickSize": 6, "labelPadding": 8, "labelOffset": 2.5, "title": "Internal−Energy", "titleX": -60}},
    "color": {"field": "s", "type": "nominal", "scale": {"domain": ["c", "C", "Exact"], "range": ["#3F4FB8", "#178A42", "#000000"]}, "legend": {"legendX": 136, "legendY": -94, "labelExpr": "datum.label == 'Exact' ? 'Exact' : (datum.label == upper(datum.label) ? 'Production ICE' : 'IMPICE')"}},
    "shape": {"field": "s", "type": "nominal", "scale": {"domain": ["c", "C", "Exact"], "range": ["circle", "triangle-up", "M-6.67,0H6.67"]}, "legend": {"legendX": 136, "legendY": -94, "labelExpr": "datum.label == 'Exact' ? 'Exact' : (datum.label == upper(datum.label) ? 'Production ICE' : 'IMPICE')"}},
    "order": {"field": "s", "type": "ordinal", "sort": "descending"}
   }},
  {"data": {"name": "ex"}, "transform": [{"filter": "datum.p == 'c'"}],
   "mark": {"type": "line", "color": "#000000", "strokeWidth": 1},
   "encoding": {
    "x": {"field": "x", "type": "quantitative", "axis": {"orient": "bottom", "values": [0.04,0.08,0.12,0.16,0.24,0.28,0.32,0.36,0.44,0.48,0.52,0.56,0.64,0.68,0.72,0.76,0.84,0.88,0.92,0.96], "tickSize": 3.5, "labels": false, "domain": false, "title": null}},
    "y": {"field": "y", "type": "quantitative", "axis": {"orient": "left", "values": [2.05,2.1,2.15,2.2,2.25,2.3,2.35,2.4,2.45,2.55,2.6,2.65,2.7,2.75,2.8,2.85,2.9,2.95,3.05,3.1,3.15,3.2,3.25,3.3,3.35,3.4,3.45], "tickSize": 3, "labels": false, "domain": false, "title": null}},
    "order": {"field": "i", "type": "quantitative"}
   }}
 ]
},
{
 "width": 406, "height": 372,
 "title": {"text": "(d)", "orient": "bottom", "anchor": "start", "frame": "group", "dx": -43, "offset": 0, "dy": -18},
 "resolve": {"axis": {"x": "independent", "y": "independent"}},
 "layer": [
  {"data": {"name": "num"}, "transform": [{"fold": ["d", "D"], "as": ["s", "v"]}],
   "mark": {"type": "point", "filled": false, "size": 110, "strokeWidth": 1.1, "opacity": 1},
   "encoding": {
    "x": {"field": "x", "type": "quantitative", "scale": {"domain": [0, 1], "nice": false, "zero": false}, "axis": {"orient": "bottom", "values": [0, 0.2, 0.4, 0.6, 0.8, 1], "tickSize": 7, "labelPadding": 12.5, "title": "x", "titleX": 204, "titleY": 68, "titleBaseline": "alphabetic", "titleAlign": "center"}},
    "y": {"field": "v", "type": "quantitative", "scale": {"domain": [0, 1], "nice": false, "zero": false}, "axis": {"orient": "left", "values": [0, 0.2, 0.4, 0.6, 0.8, 1], "tickSize": 6, "labelPadding": 8, "labelOffset": 2.5, "title": "Pressure", "titleX": -60}},
    "color": {"field": "s", "type": "nominal", "scale": {"domain": ["d", "D", "Exact"], "range": ["#3F4FB8", "#178A42", "#000000"]}, "legend": {"legendX": 140, "legendY": -78, "labelExpr": "datum.label == 'Exact' ? 'Exact' : (datum.label == upper(datum.label) ? 'Production ICE' : 'IMPICE')"}},
    "shape": {"field": "s", "type": "nominal", "scale": {"domain": ["d", "D", "Exact"], "range": ["circle", "triangle-up", "M-6.67,0H6.67"]}, "legend": {"legendX": 140, "legendY": -78, "labelExpr": "datum.label == 'Exact' ? 'Exact' : (datum.label == upper(datum.label) ? 'Production ICE' : 'IMPICE')"}},
    "order": {"field": "s", "type": "ordinal", "sort": "descending"}
   }},
  {"data": {"name": "ex"}, "transform": [{"filter": "datum.p == 'd'"}],
   "mark": {"type": "line", "color": "#000000", "strokeWidth": 1},
   "encoding": {
    "x": {"field": "x", "type": "quantitative", "axis": {"orient": "bottom", "values": [0.04,0.08,0.12,0.16,0.24,0.28,0.32,0.36,0.44,0.48,0.52,0.56,0.64,0.68,0.72,0.76,0.84,0.88,0.92,0.96], "tickSize": 3.5, "labels": false, "domain": false, "title": null}},
    "y": {"field": "y", "type": "quantitative", "axis": {"orient": "left", "values": [0.04,0.08,0.12,0.16,0.24,0.28,0.32,0.36,0.44,0.48,0.52,0.56,0.64,0.68,0.72,0.76,0.84,0.88,0.92,0.96], "tickSize": 3, "labels": false, "domain": false, "title": null}},
    "order": {"field": "i", "type": "quantitative"}
   }}
 ]
}
]
}
